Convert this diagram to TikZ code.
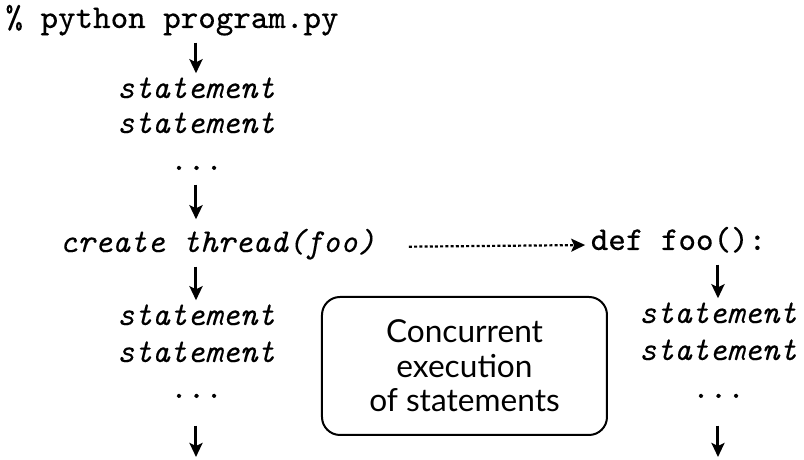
\documentclass[tikz,border=0pt]{standalone}
\usepackage{fontspec}
\setmonofont{Latin Modern Mono}[FakeBold=0.12]
\setsansfont{Lato}
\usepackage{tikz}
\usetikzlibrary{arrows.meta, positioning}
\tikzset{
	code/.style={font=\ttfamily\fontsize{9.5}{10}\selectfont, inner xsep=0pt, inner ysep=0.06cm, text height=0.18cm, text depth=0.08cm, anchor=base},
	stmt/.style={code, font=\ttfamily\itshape\fontsize{9.5}{10}\selectfont},
	flow/.style={-{Stealth[length=0.14cm, width=0.13cm, inset=0.03cm]}, line width=0.03cm},
	spawn/.style={flow, line width=0.022cm, dash pattern=on 0.03cm off 0.022cm},
	concbox/.style={draw, rounded corners=0.18cm, line width=0.02cm, minimum width=2.85cm, minimum height=1.38cm, align=center, font=\sffamily\fontsize{9}{9.8}\selectfont}
}

\begin{document}
\begin{tikzpicture}
				\useasboundingbox (0, 0) rectangle (8.04, -4.60);
				\node[code] (cmd) at (1.72, -0.28) {\% python program.py};
				\node[stmt] (stmtA) at (1.96, -0.98) {statement};
				\node[stmt] (stmtB) at (1.96, -1.33) {statement};
				\node[stmt] (dotsA) at (1.96, -1.70) {...};
				\node[stmt] (create) at (2.175, -2.52) {create thread(foo)};
				\node[code] (deffoo) at (6.785, -2.50) {def foo():};
				\node[stmt] (stmtC) at (1.96, -3.25) {statement};
				\node[stmt] (stmtD) at (1.96, -3.62) {statement};
				\node[stmt] (dotsB) at (1.96, -3.98) {...};
				\node[stmt] (stmtE) at (7.18, -3.23) {statement};
				\node[stmt] (stmtF) at (7.18, -3.60) {statement};
				\node[stmt] (dotsC) at (7.18, -3.98) {...};
				\node[concbox] (concur) at (4.645, -3.66) {Concurrent\\execution\\of statements};
				\coordinate (endL) at (1.96, -4.57);
				\coordinate (endR) at (7.18, -4.57);

				\draw[flow] (cmd.south -| stmtA.north) -- (stmtA.north);
				\draw[flow, shorten >=0.08cm] (dotsA.south) -- (create.north -| dotsA.south);
				\draw[flow] (stmtC.north |- create.south) -- (stmtC.north);
				\draw[flow, shorten <=0.13cm] (dotsB.south) -- (endL);
				\draw[flow] (stmtE.north |- deffoo.south) -- (stmtE.north);
				\draw[flow, shorten <=0.13cm] (dotsC.south) -- (endR);
				\draw[spawn, shorten <=0.33cm, shorten >=0.05cm] (create.east) -- (deffoo.west);
			\end{tikzpicture}
\end{document}
